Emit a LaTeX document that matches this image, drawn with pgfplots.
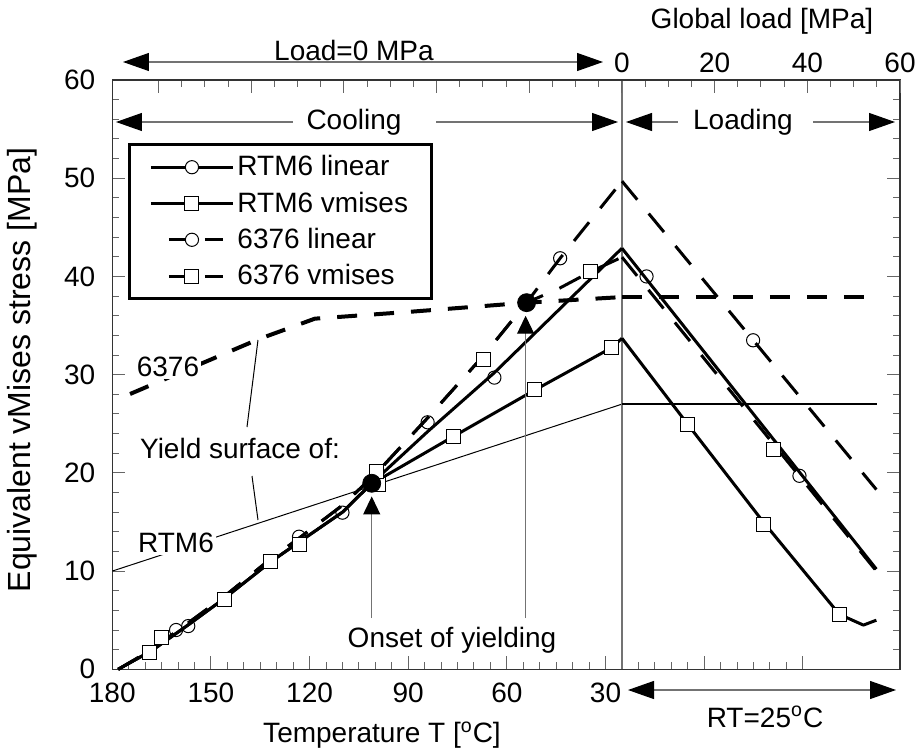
\documentclass[border=0pt]{standalone}
\usepackage{pgfplots}
\pgfplotsset{compat=1.18}
\usepackage{fontspec}
\setmainfont{Liberation Sans}
\usetikzlibrary{arrows.meta}
\begin{document}
\begin{tikzpicture}[font=\fontsize{14pt}{16.8pt}\selectfont]
\useasboundingbox (-56.15pt,-40.85pt) rectangle (401.85pt,334.65pt);
\pgfplotsset{
  frame/.style={width=393.85pt, height=294.65pt, scale only axis, at={(0pt,0pt)}, anchor=south west,
    ymin=0, ymax=60, clip=false, tick align=inside,
    /pgf/number format/assume math mode=true,
    major tick length=6.5pt, minor tick length=3.5pt,
    tick style={black!60, line width=0.5pt},
  },
  sol/.style={black, solid, line width=1.5pt, line join=round, mark=none},
  d6376/.style={black, line width=1.5pt, line join=round, mark=none, dash pattern=on 12pt off 9pt},
  cmk/.style={only marks, mark=o, mark size=3.3pt, mark options={fill=white, draw=black, line width=0.5pt, solid}},
  smk/.style={only marks, mark=square*, mark size=3.5pt, mark options={fill=white, draw=black, line width=0.5pt, solid}},
}
% ---------------- temperature axis ----------------
\begin{axis}[frame, x dir=reverse, xmin=-59.55, xmax=180,
  xtick={-30,0,30,60,90,120,150,180}, xticklabels={,,30,60,90,120,150,180},
  minor x tick num=5, xtick pos=left, xticklabel pos=left,
  ytick={0,10,...,60}, minor y tick num=4, ytick pos=both, yticklabel pos=left,
  axis line style={black!80, line width=0.7pt},
  xticklabel style={yshift=-3.5pt}, yticklabel style={xshift=-5pt},
  legend cell align=left,
  legend style={at={(0.0199,0.893)}, anchor=north west, draw=black, line width=1.5pt,
     inner xsep=10pt, inner ysep=4pt, row sep=3.5pt,
     nodes={inner sep=1.5pt, font=\fontsize{14pt}{16.8pt}\selectfont}},
]
% legend images
\addlegendimage{legend image code/.code={
  \path (0pt,0pt) (41pt,0pt);
  \draw[black, line width=1.5pt] (0pt,0pt) -- (41pt,0pt);
  \draw[black, line width=0.5pt, fill=white] (20.5pt,0pt) circle (3.3pt);}}
\addlegendentry{RTM6 linear}
\addlegendimage{legend image code/.code={
  \path (0pt,0pt) (41pt,0pt);
  \draw[black, line width=1.5pt] (0pt,0pt) -- (41pt,0pt);
  \draw[black, line width=0.5pt, fill=white] (17pt,-3.5pt) rectangle (24pt,3.5pt);}}
\addlegendentry{RTM6 vmises}
\addlegendimage{legend image code/.code={
  \path (0pt,0pt) (41pt,0pt);
  \draw[black, line width=1.5pt] (9pt,0pt) -- (17pt,0pt) (27pt,0pt) -- (36pt,0pt);
  \draw[black, line width=0.5pt, fill=white] (20.5pt,0pt) circle (3.3pt);}}
\addlegendentry{6376 linear}
\addlegendimage{legend image code/.code={
  \path (0pt,0pt) (41pt,0pt);
  \draw[black, line width=1.5pt] (9pt,0pt) -- (17pt,0pt) (27pt,0pt) -- (36pt,0pt);
  \draw[black, line width=0.5pt, fill=white] (17pt,-3.5pt) rectangle (24pt,3.5pt);}}
\addlegendentry{6376 vmises}

% yield surfaces
\addplot[black, line width=0.5pt, forget plot] coordinates {(180,10) (25,27.0)};
\addplot[black, line width=2pt, dash pattern=on 10pt off 8.5pt, forget plot] coordinates {
 (174.6,28.03) (135.6,33.6) (118.4,35.7) (89.5,36.4) (54,37.33) (25,37.9)};
% vertical separator
\draw[black!55, line width=0.7pt] (axis cs:25,0) -- (axis cs:25,60);

% RTM6 linear
\addplot[sol, forget plot] coordinates {(178.2,0) (168,1.9) (157,4.5) (146,7.2) (132,10.9) (123,13.0) (110,16.0) (101.1,18.94) (84.1,24.2) (63.8,30.2) (25,42.87)};
% RTM6 vmises
\addplot[sol, forget plot] coordinates {(178.2,0) (168,1.9) (157,4.5) (146,7.2) (132,10.9) (123,13.0) (110,16.0) (101.1,18.94) (99,19.3) (76.3,23.7) (51.7,28.4) (28.1,32.75) (25,33.7)};
% 6376 linear
\addplot[d6376, forget plot] coordinates {(178.2,0) (168,2.0) (157,4.7) (146,7.4) (132,11.2) (123,13.4) (110,16.7) (99.6,20.0) (84.1,25.6) (67.2,31.9) (54,37.33) (43.8,41.85) (25,49.7)};
% 6376 vmises
\addplot[d6376, forget plot] coordinates {(178.2,0) (168,2.0) (157,4.7) (146,7.4) (132,11.2) (123,13.4) (110,16.7) (99.6,20.0) (84.1,25.6) (67.2,31.9) (54,37.33) (44,38.8) (34.5,40.49) (25,41.96)};

% markers
\addplot[cmk, forget plot] coordinates {(156.9,4.4) (110,15.95) (63.8,29.7)};
\addplot[cmk, forget plot] coordinates {(160.6,4.0) (123.2,13.5) (84.1,25.15) (43.8,41.85)};
\addplot[smk, forget plot] coordinates {(165.0,3.26) (132.0,10.96) (99.1,18.77) (76.3,23.69) (51.7,28.44) (28.1,32.75)};
\addplot[smk, forget plot] coordinates {(168.8,1.73) (146.0,7.06) (123.2,12.66) (99.6,20.19) (67.2,31.57) (34.5,40.49)};

% onset arrows
\draw[black!55, line width=0.6pt, -{Triangle[length=9pt,width=8.5pt,color=black]}] (axis cs:101.1,5.2) -- (axis cs:101.1,17.6);
\draw[black!55, line width=0.6pt, -{Triangle[length=9pt,width=8.5pt,color=black]}] (axis cs:54.3,5.2) -- (axis cs:54.3,36.0);
% onset dots
\addplot[only marks, mark=*, mark size=4.5pt, mark options={fill=black, draw=black, solid}, forget plot] coordinates {(101.1,18.94) (54,37.33)};
\end{axis}

% ---------------- load axis ----------------
\begin{axis}[frame, xmin=-110, xmax=60, axis x line*=top, hide y axis,
  xtick={-100,-80,...,60}, xticklabels={,,,,,0,20,40,60},
  minor x tick num=3,
  x axis line style={black!80, line width=0.7pt, -},
]
\addplot[black, line width=0.9pt, mark=none] coordinates {(0,27.0) (55,27.0)};
\addplot[black, mark=none, line width=2pt, dash pattern=on 10pt off 8.5pt] coordinates {(0,37.9) (55,37.9)};
% RTM6 linear
\addplot[sol] coordinates {(0,42.87) (54.9,10.2)};
% 6376 linear
\addplot[d6376] coordinates {(0,49.7) (54.9,18.3)};
% RTM6 vmises
\addplot[sol] coordinates {(0,33.7) (14.1,25.0) (30.5,15.0) (46.9,5.6) (52.1,4.5) (54.9,5.0)};
% 6376 vmises
\addplot[d6376] coordinates {(0,41.96) (54.9,10.0)};
% markers
\addplot[cmk] coordinates {(5.3,40.0) (38.3,19.7)};
\addplot[cmk] coordinates {(28.3,33.5)};
\addplot[smk] coordinates {(14.1,24.88) (30.5,14.7) (46.9,5.6)};
\addplot[smk] coordinates {(32.7,22.4)};
\end{axis}

% ---------------- annotations (pixel frame) ----------------
\begin{scope}[shift={(-56.15pt,334.65pt)}, x=0.5pt, y=-0.5pt]
\tikzset{arr/.style={black!55, line width=0.6pt}}
\node at (762,21) {Global load [MPa]};
\node at (354,50) {Load=0 MPa};
\draw[arr, {Triangle[length=13pt,width=9pt,color=black]}-{Triangle[length=13pt,width=9pt,color=black]}] (123,62) -- (603,62);
\draw[arr, {Triangle[length=13pt,width=9pt,color=black]}-] (116,122) -- (293,122);
\node at (354,122) {Cooling};
\draw[arr, -{Triangle[length=13pt,width=9pt,color=black]}] (436,122) -- (618,122);
\draw[arr, {Triangle[length=13pt,width=9pt,color=black]}-] (626,122) -- (678,122);
\node at (743,122) {Loading};
\draw[arr, -{Triangle[length=13pt,width=9pt,color=black]}] (813,122) -- (895,122);
\draw[arr, {Triangle[length=13pt,width=9pt,color=black]}-{Triangle[length=13pt,width=9pt,color=black]}] (628,690) -- (896,690);
\node at (765,717) {RT=25\textsuperscript{o}C};
\node at (382,735) {Temperature T [\textsuperscript{o}C]};
\node[rotate=90, font=\fontsize{16pt}{19pt}\selectfont] at (22,370) {Equivalent vMises stress [MPa]};
\node[fill=white, inner sep=1pt] at (168,367) {6376};
\node at (240,448) {Yield surface of:};
\node[fill=white, inner sep=1pt] at (176,543) {RTM6};
\draw[black, line width=0.5pt] (247,427) -- (258,340);
\draw[black, line width=0.5pt] (252,476) -- (258,520);
\node at (452,640) {Onset of yielding};
\end{scope}
\end{tikzpicture}
\end{document}
